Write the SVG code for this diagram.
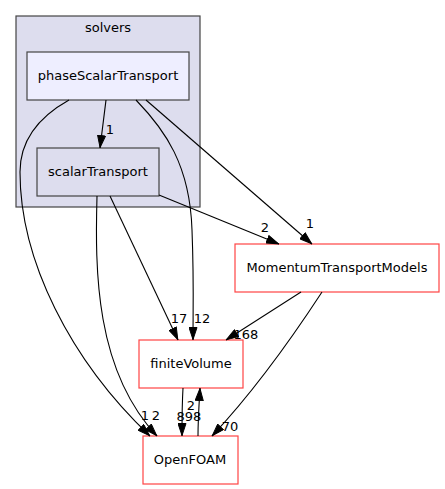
<svg xmlns="http://www.w3.org/2000/svg" width="445" height="489" viewBox="0 0 445 489">
<style>
text{font-family:"DejaVu Sans",sans-serif;font-size:13px;fill:#000}
.n text{text-anchor:middle}
.c{fill:#ddddee;stroke:#444;stroke-width:1.2}
.ng{stroke:#444;stroke-width:1.2}
.nr{fill:#fff;stroke:#ff4444;stroke-width:1.2}
.e path{fill:none;stroke:#000;stroke-width:1.1;marker-end:url(#a)}
.l text{text-anchor:middle;font-size:13px}
</style>
<defs>
<marker id="a" viewBox="0 0 13 9" refX="13" refY="4.5" markerWidth="13" markerHeight="9" markerUnits="userSpaceOnUse" orient="auto">
<path d="M0.5,0.5 L12.5,4.5 L0.5,8.5 z" fill="#000" stroke="#000" stroke-width="1"/>
</marker>
</defs>
<rect width="445" height="489" fill="#fff"/>
<g id="cluster_solvers">
<rect class="c" x="16" y="16" width="184" height="191"/>
<text x="108" y="32" text-anchor="middle">solvers</text>
</g>
<g id="node_phaseScalarTransport" class="n">
<rect class="ng" x="27" y="52" width="162" height="48" fill="#eeeeff"/>
<text x="108" y="80">phaseScalarTransport</text>
</g>
<g id="node_scalarTransport" class="n">
<rect class="ng" x="37" y="148" width="122" height="48" fill="#ddddee"/>
<text x="98" y="176">scalarTransport</text>
</g>
<g id="node_MomentumTransportModels" class="n">
<rect class="nr" x="235" y="244" width="204" height="48"/>
<text x="337" y="272">MomentumTransportModels</text>
</g>
<g id="node_finiteVolume" class="n">
<rect class="nr" x="139" y="340" width="104" height="48"/>
<text x="191" y="368">finiteVolume</text>
</g>
<g id="node_OpenFOAM" class="n">
<rect class="nr" x="143" y="436" width="95" height="48"/>
<text x="190" y="464">OpenFOAM</text>
</g>
<g id="edges" class="e">
<path d="M106,100 L100,148"/>
<path d="M69,100 C44,114 20,136 20,172 C20,260 70,360 150,436"/>
<path d="M97,196 C95,270 95,370 157,436"/>
<path d="M110,196 L178,340"/>
<path d="M136,100 C165,130 190,165 192,230 C194,280 193,310 193,340"/>
<path d="M146,100 L312,244"/>
<path d="M159,195 L279,244"/>
<path d="M301,292 L226,340"/>
<path d="M322,292 C305,318 260,385 212,436"/>
<path d="M183,388 C182,405 182,420 182,436"/>
<path d="M198,436 C198,420 199,405 200,388"/>
</g>
<g id="edge_labels" class="l">
<text x="110" y="134">1</text>
<text x="145" y="420">1</text>
<text x="156" y="420">2</text>
<text x="179" y="323">17</text>
<text x="202" y="323">12</text>
<text x="310" y="228">1</text>
<text x="265" y="232">2</text>
<text x="246" y="339">168</text>
<text x="230" y="431">70</text>
<text x="189" y="421">898</text>
<text x="191" y="410">2</text>
</g>
</svg>
